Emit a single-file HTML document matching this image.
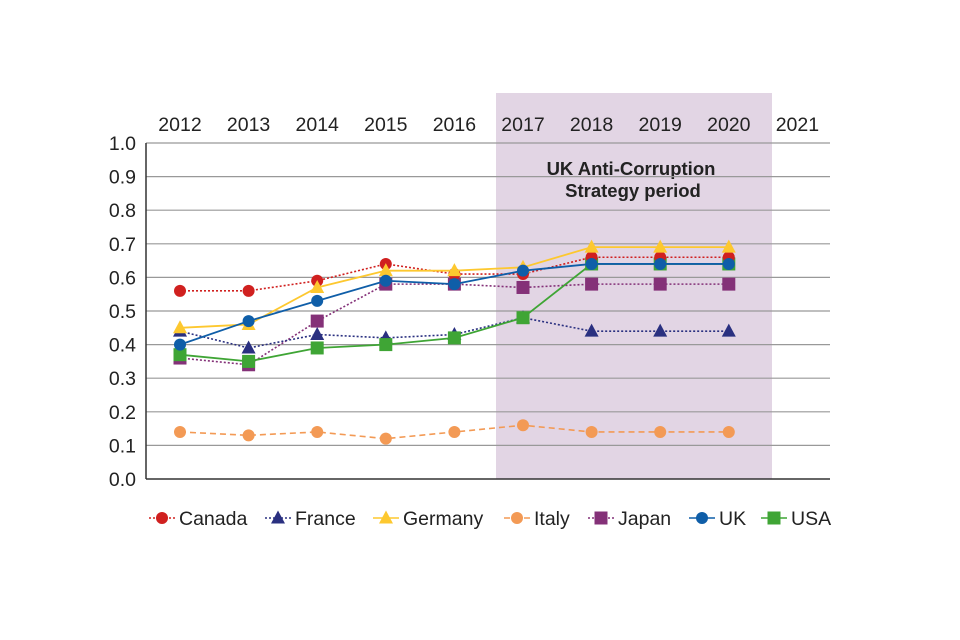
<!DOCTYPE html>
<html><head><meta charset="utf-8"><style>
body{margin:0;background:#fff;overflow:hidden;}
svg{display:block;}
svg text{font-family:"Liberation Sans",sans-serif;fill:#222;}
</style></head><body>
<svg id="chart" width="960" height="640" xmlns="http://www.w3.org/2000/svg"></svg>
<script>
const years=[2012,2013,2014,2015,2016,2017,2018,2019,2020,2021];
const yTicks=[0,0.1,0.2,0.3,0.4,0.5,0.6,0.7,0.8,0.9,1.0];
const canada=[0.56,0.56,0.59,0.64,0.61,0.61,0.66,0.66,0.66];
const france=[0.44,0.39,0.43,0.42,0.43,0.48,0.44,0.44,0.44];
const germany=[0.45,0.46,0.57,0.62,0.62,0.63,0.69,0.69,0.69];
const italy=[0.14,0.13,0.14,0.12,0.14,0.16,0.14,0.14,0.14];
const japan=[0.36,0.34,0.47,0.58,0.58,0.57,0.58,0.58,0.58];
const uk=[0.40,0.47,0.53,0.59,0.58,0.62,0.64,0.64,0.64];
const usa=[0.37,0.35,0.39,0.40,0.42,0.48,0.64,0.64,0.64];

const NS="http://www.w3.org/2000/svg";
const svg=document.getElementById('chart');
const X=y=>180+(y-2012)*68.6;
const Y=v=>479-v*336;
function mk(t,a,parent){const e=document.createElementNS(NS,t);for(const k in a)e.setAttribute(k,a[k]);(parent||svg).appendChild(e);return e;}

const sh=mk('rect',{x:496,y:93,width:276,height:Y(0)-93,fill:'#e2d5e4'});


const st=mk('text',{x:631,y:175,'text-anchor':'middle','font-size':18.5,'font-weight':'bold'});
st.textContent='UK Anti-Corruption';


const st2=mk('text',{x:633,y:197,'text-anchor':'middle','font-size':18.5,'font-weight':'bold'});
st2.textContent='Strategy period';



yTicks.forEach(v=>{
  if(v>0){const g=mk('line',{x1:146,x2:830,y1:Y(v),y2:Y(v),stroke:'#999','stroke-width':1.2});
  
  }
  const t=mk('text',{x:136,y:Y(v)+7,'text-anchor':'end','font-size':19.5});
  t.textContent=v.toFixed(1);
  
  
});
const ax=mk('line',{x1:146,x2:146,y1:143,y2:479,stroke:'#333','stroke-width':1.5});


const bx=mk('line',{x1:146,x2:830,y1:479,y2:479,stroke:'#333','stroke-width':1.5});


years.forEach(y=>{
  const t=mk('text',{x:X(y),y:131,'text-anchor':'middle','font-size':19.5});
  t.textContent=y;
  
  
});

const series=[
 {name:'Canada',d:canada,c:'#d0201f',dash:'2,2',m:'circle'},
 {name:'France',d:france,c:'#2a3080',dash:'2,2',m:'tri'},
 {name:'Germany',d:germany,c:'#fdc82f',dash:'',m:'tri'},
 {name:'Italy',d:italy,c:'#f39a55',dash:'6,4',m:'circle'},
 {name:'Japan',d:japan,c:'#843178',dash:'2,2',m:'square'},
 {name:'UK',d:uk,c:'#0f5ea8',dash:'',m:'circle'},
 {name:'USA',d:usa,c:'#3fa535',dash:'',m:'square'}
];
function marker(type,x,y,c,g){
  if(type==='circle')return mk('circle',{cx:x,cy:y,r:6,fill:c},g);
  if(type==='square')return mk('rect',{x:x-6.5,y:y-6.5,width:13,height:13,fill:c},g);
  return mk('polygon',{points:`${x},${y-7.5} ${x-7},${y+5.5} ${x+7},${y+5.5}`,fill:c},g);
}
const order=['Italy','Japan','France','USA','Canada','Germany','UK'];
order.forEach(n=>{
  const s=series.find(q=>q.name===n);
  const g=mk('g',{});
  
  
  const pts=s.d.map((v,i)=>X(years[i])+','+Y(v)).join(' ');
  const a={points:pts,fill:'none',stroke:s.c,'stroke-width':s.dash?1.6:1.8};
  if(s.dash)a['stroke-dasharray']=s.dash;
  mk('polyline',a,g);
  s.d.forEach((v,i)=>{const m=marker(s.m,X(years[i]),Y(v),s.c,g);
    
    });
});

const lx=[149,265,373,504,588,689,761];
series.forEach((s,i)=>{
  const g=mk('g',{});
  
  
  const a={x1:lx[i],x2:lx[i]+26,y1:518,y2:518,stroke:s.c,'stroke-width':1.6};
  if(s.dash)a['stroke-dasharray']=s.dash;
  mk('line',a,g);
  marker(s.m,lx[i]+13,518,s.c,g);
  const t=mk('text',{x:lx[i]+30,y:525,'font-size':19.5},g);
  t.textContent=s.name;
});
</script>
</body></html>
